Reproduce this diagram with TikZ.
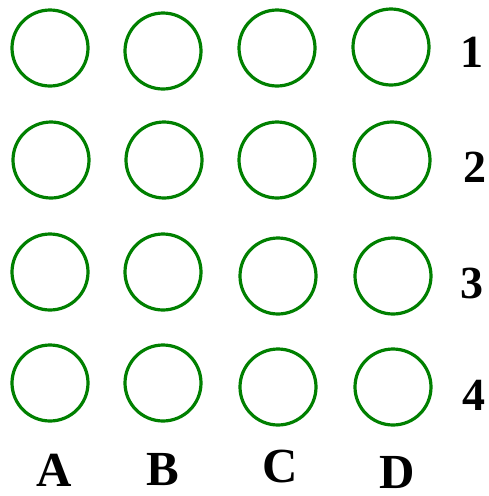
\documentclass[tikz,border=0pt]{standalone}
\usepackage{fontspec}
\setmainfont{Liberation Serif}
\definecolor{cgreen}{RGB}{0,128,0}
\begin{document}
\begin{tikzpicture}[x=1pt,y=-1pt,
  ring/.style={circle,draw=cgreen,line width=3.2pt,minimum size=76pt,inner sep=0pt},
  lbl/.style={font=\fontsize{46}{46}\selectfont\bfseries,inner sep=0pt},
  clbl/.style={font=\fontsize{49}{49}\selectfont\bfseries,inner sep=0pt}]
\useasboundingbox (0,0) rectangle (488,496);
\node[ring] (a1) at (50,48) {};
\node[ring] (b1) at (163,51) {};
\node[ring] (c1) at (277,48) {};
\node[ring] (d1) at (391,47) {};
\node[ring] (a2) at (51,160) {};
\node[ring] (b2) at (164,160) {};
\node[ring] (c2) at (277,160) {};
\node[ring] (d2) at (392,160) {};
\node[ring] (a3) at (50,272) {};
\node[ring] (b3) at (163,272) {};
\node[ring] (c3) at (278,276) {};
\node[ring] (d3) at (393,276) {};
\node[ring] (a4) at (50,383) {};
\node[ring] (b4) at (163,383) {};
\node[ring] (c4) at (278,387) {};
\node[ring] (d4) at (393,387) {};
\node[lbl] (r1) at (472,52) {1};
\node[lbl] (r2) at (475,167) {2};
\node[lbl] (r3) at (472,283) {3};
\node[lbl] (r4) at (474,395) {4};
\node[clbl] (ca) at (54,470) {A};
\node[clbl] (cb) at (163,470) {B};
\node[clbl] (cc) at (280,467) {C};
\node[clbl] (cd) at (397,472) {D};
\end{tikzpicture}
\end{document}
